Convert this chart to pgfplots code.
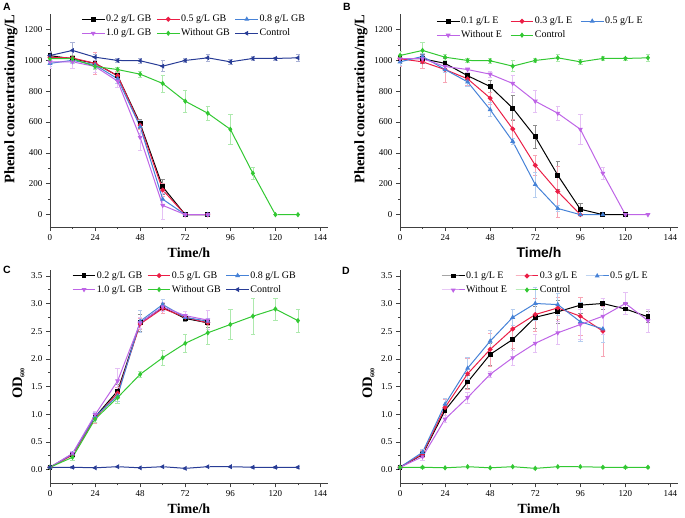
\documentclass[border=0pt]{standalone}
\usepackage{pgfplots}
\pgfplotsset{compat=1.18}
\usepackage{fontspec}
\setmainfont{Liberation Serif}
\setsansfont{Liberation Sans}
\definecolor{cRed}{RGB}{235,30,70}
\definecolor{cBlue}{RGB}{70,130,215}
\definecolor{cViolet}{RGB}{190,100,230}
\definecolor{cGreen}{RGB}{50,200,50}
\definecolor{cNavy}{RGB}{40,60,150}
\pgfplotsset{
  panel/.style={
    scale only axis, width=278pt, height=213pt,
    axis lines=left, axis line style={-, black!75, line width=0.8pt},
    tick align=outside, xmin=0, xmax=148, xtick={0,24,...,144},
    minor x tick num=1, minor y tick num=1,
    major tick length=4pt, minor tick length=2pt,
    tick style={black!75, line width=0.6pt},
    tick label style={font=\fontsize{9}{10}\selectfont},
    /pgf/number format/assume math mode=true,
    /pgf/number format/1000 sep={},
    xlabel style={font=\bfseries\fontsize{14}{15}\selectfont},
    ylabel style={font=\bfseries\fontsize{14.5}{15}\selectfont},
    xlabel={Time/h},
    legend columns=3, legend cell align=left,
    legend style={draw=none, fill=none, inner sep=0pt, row sep=3pt,
      font=\fontsize{10}{12}\selectfont, anchor=north west,
      nodes={inner sep=1pt, text height=7pt, text depth=2pt},
      /tikz/every even column/.append style={column sep=4pt}},
    legend image code/.code={\draw[mark repeat=2,mark phase=2] plot coordinates {(0cm,0cm) (0.4cm,0cm) (0.8cm,0cm)};},
    every axis plot/.append style={line width=1pt, mark size=1.9pt,
      error bars/y dir=both, error bars/y explicit},
  },
  eb/.style={error bars/error bar style={color=#1, line width=0.6pt},
    error bars/error mark options={color=#1, mark size=2.2pt, line width=0.6pt, rotate=90}},
}
\begin{document}
\begin{tikzpicture}
\useasboundingbox (0,0) rectangle (685pt,518pt);
\node[font=\sffamily\bfseries\fontsize{10.5}{12}\selectfont] at (7pt,511pt) {A};
\node[font=\sffamily\bfseries\fontsize{10.5}{12}\selectfont] at (347pt,511pt) {B};
\node[font=\sffamily\bfseries\fontsize{10.5}{12}\selectfont] at (7pt,248pt) {C};
\node[font=\sffamily\bfseries\fontsize{10.5}{12}\selectfont] at (346pt,247pt) {D};

% ---------------- A ----------------
\begin{axis}[panel, at={(50pt,291pt)}, anchor=south west,
  ymin=-80, ymax=1300, ytick={0,200,...,1200},
  ylabel={Phenol concentration/mg/L},
  ylabel style={at={(ticklabel cs:0.6)}},
  legend style={at={(0.112,1.002)}}]
\addplot[black, mark=square*, eb=black!45] table[y error=e] {
x y e
0 1030 20
12 1010 20
24 980 40
36 900 30
48 590 30
60 180 50
72 0 0
84 0 0
};
\addlegendentry{0.2 g/L GB}
\addplot[cRed, mark=*, eb=cRed!40] table[y error=e] {
x y e
0 1020 20
12 1015 20
24 980 70
36 900 30
48 580 30
60 160 40
72 0 0
84 0 0
};
\addlegendentry{0.5 g/L GB}
\addplot[cBlue, mark=triangle*, eb=cBlue!40] table[y error=e] {
x y e
0 980 20
12 1000 20
24 970 20
36 880 30
48 570 40
60 100 40
72 0 0
84 0 0
};
\addlegendentry{0.8 g/L GB}
\addplot[cViolet, mark=triangle*, mark options={rotate=180}, eb=cViolet!40] table[y error=e] {
x y e
0 990 40
12 990 40
24 960 40
36 865 40
48 500 80
60 60 90
72 0 0
84 0 0
};
\addlegendentry{1.0 g/L GB}
\addplot[cGreen, mark=diamond*, eb=cGreen!40] table[y error=e] {
x y e
0 1010 20
12 1010 25
24 960 20
36 940 15
48 910 20
60 850 55
72 735 70
84 657 45
96 553 95
108 268 40
120 0 0
132 0 0
};
\addlegendentry{Without GB}
\addplot[cNavy, mark=triangle*, mark options={rotate=90}, eb=cNavy!40] table[y error=e] {
x y e
0 1031 30
12 1064 55
24 1020 20
36 999 15
48 997 15
60 962 35
72 999 15
84 1016 20
96 990 15
108 1012 15
120 1012 10
132 1016 20
};
\addlegendentry{Control}
\end{axis}

% ---------------- B ----------------
\begin{axis}[panel, at={(400pt,291pt)}, anchor=south west,
  ymin=-80, ymax=1300, ytick={0,200,...,1200},
  ylabel={Phenol concentration/mg/L},
  ylabel style={at={(ticklabel cs:0.6)}},
  xlabel style={font=\sffamily\bfseries\fontsize{14}{15}\selectfont},
  legend style={at={(0.130,0.993)}, /tikz/every even column/.append style={column sep=7pt}}]
\addplot[black, mark=square*, eb=black!45] table[y error=e] {
x y e
0 1010 30
12 1010 30
24 980 30
36 900 20
48 830 40
60 690 80
72 505 75
84 255 90
96 35 40
108 0 0
120 0 0
};
\addlegendentry{0.1 g/L E}
\addplot[cRed, mark=*, eb=cRed!40] table[y error=e] {
x y e
0 1010 50
12 990 40
24 940 80
36 880 40
48 755 40
60 555 60
72 320 65
84 150 165
96 0 0
};
\addlegendentry{0.3 g/L E}
\addplot[cBlue, mark=triangle*, eb=cBlue!40] table[y error=e] {
x y e
0 990 20
12 1025 20
24 940 20
36 860 30
48 680 45
60 475 20
72 195 80
84 40 20
96 0 0
108 0 0
};
\addlegendentry{0.5 g/L E}
\addplot[cViolet, mark=triangle*, mark options={rotate=180}, eb=cViolet!40] table[y error=e] {
x y e
0 1010 20
12 1010 25
24 960 20
36 940 15
48 910 20
60 850 55
72 735 70
84 657 45
96 553 95
108 268 40
120 0 0
132 0 0
};
\addlegendentry{Without E}
\addplot[cGreen, mark=diamond*, eb=cGreen!40] table[y error=e] {
x y e
0 1031 30
12 1064 55
24 1020 20
36 999 15
48 997 15
60 962 35
72 999 15
84 1016 20
96 990 15
108 1012 15
120 1012 10
132 1016 20
};
\addlegendentry{Control}
\end{axis}

% ---------------- C ----------------
\begin{axis}[panel, at={(50pt,34.7pt)}, anchor=south west,
  ymin=-0.25, ymax=3.6, ytick={0,0.5,...,3.5},
  yticklabel style={/pgf/number format/.cd, fixed, fixed zerofill, precision=1},
  ylabel={OD\textsubscript{\fontsize{6}{6}\selectfont 600}},
  ylabel style={at={(ticklabel cs:0.47)}},
  legend style={at={(0.079,1.002)}}]
\addplot[black, mark=square*, eb=black!45] table[y error=e] {
x y e
0 0.04 0.01
12 0.27 0.03
24 0.95 0.10
36 1.42 0.12
48 2.65 0.15
60 2.93 0.08
72 2.73 0.05
84 2.65 0.08
};
\addlegendentry{0.2 g/L GB}
\addplot[cRed, mark=*, eb=cRed!40] table[y error=e] {
x y e
0 0.04 0.01
12 0.26 0.03
24 0.93 0.10
36 1.38 0.10
48 2.63 0.10
60 2.91 0.08
72 2.75 0.05
84 2.65 0.05
};
\addlegendentry{0.5 g/L GB}
\addplot[cBlue, mark=triangle*, eb=cBlue!40] table[y error=e] {
x y e
0 0.04 0.01
12 0.28 0.03
24 0.96 0.08
36 1.33 0.10
48 2.68 0.20
60 2.98 0.10
72 2.75 0.05
84 2.68 0.05
};
\addlegendentry{0.8 g/L GB}
\addplot[cViolet, mark=triangle*, mark options={rotate=180}, eb=cViolet!40] table[y error=e] {
x y e
0 0.04 0.01
12 0.29 0.03
24 0.99 0.06
36 1.60 0.22
48 2.65 0.10
60 2.94 0.08
72 2.78 0.08
84 2.70 0.17
};
\addlegendentry{1.0 g/L GB}
\addplot[cGreen, mark=diamond*, eb=cGreen!40] table[y error=e] {
x y e
0 0.04 0.01
12 0.22 0.06
24 0.91 0.06
36 1.30 0.10
48 1.72 0.06
60 2.02 0.13
72 2.28 0.16
84 2.47 0.20
96 2.62 0.27
108 2.77 0.32
120 2.90 0.20
132 2.69 0.21
};
\addlegendentry{Without GB}
\addplot[cNavy, mark=triangle*, mark options={rotate=90}, eb=cNavy!40] table[y error=e] {
x y e
0 0.04 0.01
12 0.04 0.01
24 0.03 0.01
36 0.05 0.01
48 0.03 0.01
60 0.05 0.01
72 0.02 0.01
84 0.05 0.01
96 0.05 0.01
108 0.04 0.01
120 0.04 0.01
132 0.04 0.01
};
\addlegendentry{Control}
\end{axis}

% ---------------- D ----------------
\begin{axis}[panel, at={(400pt,34.7pt)}, anchor=south west,
  ymin=-0.25, ymax=3.6, ytick={0,0.5,...,3.5},
  yticklabel style={/pgf/number format/.cd, fixed, fixed zerofill, precision=1},
  ylabel={OD\textsubscript{\fontsize{6}{6}\selectfont 600}},
  ylabel style={at={(ticklabel cs:0.47)}},
  legend style={at={(0.148,1.0)}, /tikz/every even column/.append style={column sep=7pt}}]
\addplot[black, mark=square*, eb=black!45] table[y error=e] {
x y e
0 0.04 0.01
12 0.27 0.05
24 1.07 0.10
36 1.58 0.12
48 2.08 0.20
60 2.35 0.20
72 2.75 0.20
84 2.85 0.20
96 2.97 0.15
108 3.00 0.10
120 2.90 0.10
132 2.76 0.10
};
\addlegendentry{0.1 g/L E}
\addplot[cRed, mark=*, eb=cRed!40] table[y error=e] {
x y e
0 0.04 0.01
12 0.28 0.06
24 1.12 0.15
36 1.73 0.28
48 2.17 0.30
60 2.54 0.35
72 2.80 0.30
84 2.92 0.20
96 2.77 0.35
108 2.50 0.45
};
\addlegendentry{0.3 g/L E}
\addplot[cBlue, mark=triangle*, eb=cBlue!40] table[y error=e] {
x y e
0 0.04 0.01
12 0.31 0.05
24 1.18 0.10
36 1.83 0.20
48 2.32 0.20
60 2.75 0.15
72 3.00 0.30
84 2.98 0.20
96 2.67 0.35
108 2.54 0.25
};
\addlegendentry{0.5 g/L E}
\addplot[cViolet, mark=triangle*, mark options={rotate=180}, eb=cViolet!40] table[y error=e] {
x y e
0 0.04 0.01
12 0.23 0.06
24 0.91 0.06
36 1.30 0.10
48 1.72 0.06
60 2.02 0.13
72 2.28 0.16
84 2.47 0.20
96 2.62 0.27
108 2.77 0.32
120 3.00 0.20
132 2.69 0.21
};
\addlegendentry{Without E}
\addplot[cGreen, mark=diamond*, eb=cGreen!40] table[y error=e] {
x y e
0 0.04 0.01
12 0.04 0.01
24 0.03 0.01
36 0.05 0.01
48 0.03 0.01
60 0.05 0.01
72 0.02 0.01
84 0.05 0.01
96 0.05 0.01
108 0.04 0.01
120 0.04 0.01
132 0.04 0.01
};
\addlegendentry{Control}
\end{axis}
\end{tikzpicture}
\end{document}
